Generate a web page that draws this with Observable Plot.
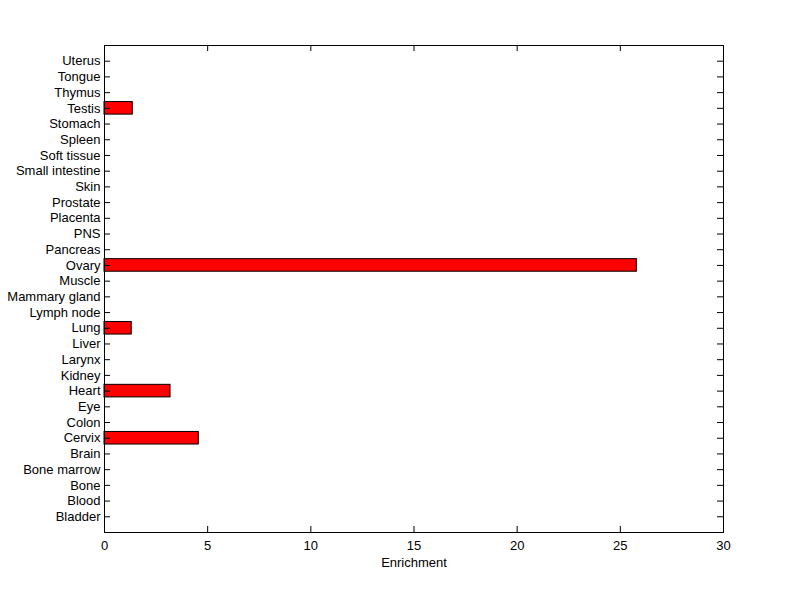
<!DOCTYPE html>
<html>
<head>
<meta charset="utf-8">
<script src="https://cdn.jsdelivr.net/npm/d3@7"></script>
<script src="https://cdn.jsdelivr.net/npm/@observablehq/plot@0.6"></script>
<style>
  html, body { margin: 0; padding: 0; background: #fff; }
  svg { display: block; }
</style>
</head>
<body>
<div id="chart"></div>
<script>
// Categories from bottom to top
const categories = [
  "Bladder", "Blood", "Bone", "Bone marrow", "Brain", "Cervix", "Colon", "Eye",
  "Heart", "Kidney", "Larynx", "Liver", "Lung", "Lymph node", "Mammary gland",
  "Muscle", "Ovary", "Pancreas", "PNS", "Placenta", "Prostate", "Skin",
  "Small intestine", "Soft tissue", "Spleen", "Stomach", "Testis", "Thymus",
  "Tongue", "Uterus"
];
const enrichment = [
  0, 0, 0, 0, 0, 4.57, 0, 0,
  3.2, 0, 0, 0, 1.32, 0, 0,
  0, 25.8, 0, 0, 0, 0, 0,
  0, 0, 0, 0, 1.37, 0,
  0, 0
];
const xTicks = [0, 5, 10, 15, 20, 25, 30];
const xLabel = "Enrichment";

const data = categories.map((c, i) => ({cat: c, idx: i + 1, value: enrichment[i]}));
const yIdx = data.map(d => d.idx);

const W = 800, H = 599;
const mL = 104, mR = 77, mT = 45, mB = 67;
const innerW = W - mL - mR, innerH = H - mT - mB;
const tick = 6;

const chart = Plot.plot({
  width: W,
  height: H,
  marginLeft: mL,
  marginRight: mR,
  marginTop: mT,
  marginBottom: mB,
  style: {fontFamily: "'Liberation Sans', Arial, Helvetica, sans-serif", fontSize: "13px", color: "#000", background: "#fff"},
  x: {domain: [0, 30]},
  y: {domain: [0, 31]},
  marks: [
    Plot.rectX(data.filter(d => d.value > 0), {
      x1: 0, x2: "value",
      y1: d => d.idx - 0.4, y2: d => d.idx + 0.4,
      fill: "#ff0000", stroke: "#000", strokeWidth: 1
    }),
    // inward ticks on all four sides
    Plot.ruleX(xTicks, {x: d => d, insetTop: innerH - tick, stroke: "#000"}),
    Plot.ruleX(xTicks, {x: d => d, insetBottom: innerH - tick, stroke: "#000"}),
    Plot.ruleY(yIdx, {y: d => d, insetRight: innerW - tick, stroke: "#000"}),
    Plot.ruleY(yIdx, {y: d => d, insetLeft: innerW - tick, stroke: "#000"}),
    Plot.frame({stroke: "#000", strokeWidth: 1}),
    Plot.axisY({
      ticks: yIdx, tickSize: 0, tickPadding: 4,
      tickFormat: i => categories[i - 1], label: null
    }),
    Plot.axisX({
      ticks: xTicks, tickSize: 0, tickPadding: 8,
      label: xLabel, labelAnchor: "center", labelOffset: 34, labelArrow: false
    })
  ]
});
document.getElementById("chart").appendChild(chart);
</script>
</body>
</html>
